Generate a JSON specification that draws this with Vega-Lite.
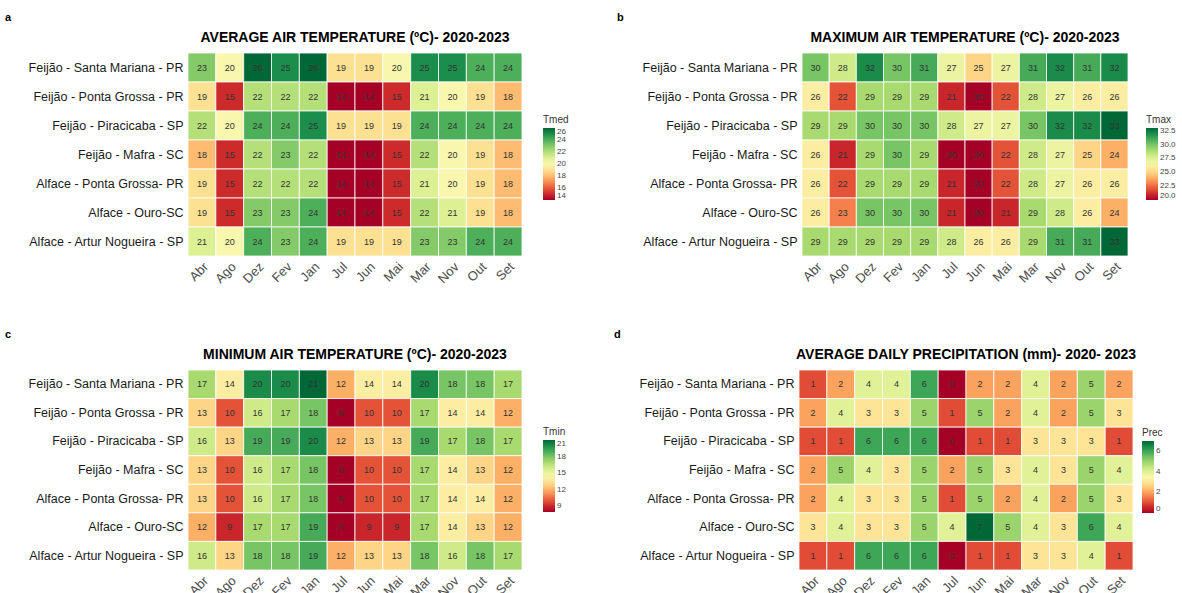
{
  "$schema": "https://vega.github.io/schema/vega-lite/v6.json",
  "background": "white",
  "padding": {"left": 5, "top": 11, "right": 0, "bottom": 0},
  "config": {
    "view": {"stroke": null},
    "font": "Liberation Sans",
    "axis": {"ticks": false, "domain": false, "grid": false, "title": null},
    "axisX": {"labelAngle": -45, "labelFontSize": 13, "labelColor": "#4d4d4d", "labelPadding": 4},
    "axisY": {"labelFontSize": 12.5, "labelColor": "#1a1a1a", "labelPadding": 5, "labelLimit": 300},
    "legend": {"titleFontSize": 10, "titleFontWeight": "normal", "titleColor": "#333", "labelFontSize": 8, "labelColor": "#444", "gradientLength": 72, "gradientThickness": 12, "titlePadding": 3, "labelOverlap": false, "labelOffset": 3}
  },
  "resolve": {"scale": {"color": "independent"}, "legend": {"color": "independent"}},
  "datasets": {
    "clima": [
      {"s":"Feijão - Santa Mariana - PR","m":"Abr","tmed":23,"tmax":30,"tmin":17,"prec":1},
      {"s":"Feijão - Santa Mariana - PR","m":"Ago","tmed":20,"tmax":28,"tmin":14,"prec":2},
      {"s":"Feijão - Santa Mariana - PR","m":"Dez","tmed":26,"tmax":32,"tmin":20,"prec":4},
      {"s":"Feijão - Santa Mariana - PR","m":"Fev","tmed":25,"tmax":30,"tmin":20,"prec":4},
      {"s":"Feijão - Santa Mariana - PR","m":"Jan","tmed":26,"tmax":31,"tmin":21,"prec":6},
      {"s":"Feijão - Santa Mariana - PR","m":"Jul","tmed":19,"tmax":27,"tmin":12,"prec":0},
      {"s":"Feijão - Santa Mariana - PR","m":"Jun","tmed":19,"tmax":25,"tmin":14,"prec":2},
      {"s":"Feijão - Santa Mariana - PR","m":"Mai","tmed":20,"tmax":27,"tmin":14,"prec":2},
      {"s":"Feijão - Santa Mariana - PR","m":"Mar","tmed":25,"tmax":31,"tmin":20,"prec":4},
      {"s":"Feijão - Santa Mariana - PR","m":"Nov","tmed":25,"tmax":32,"tmin":18,"prec":2},
      {"s":"Feijão - Santa Mariana - PR","m":"Out","tmed":24,"tmax":31,"tmin":18,"prec":5},
      {"s":"Feijão - Santa Mariana - PR","m":"Set","tmed":24,"tmax":32,"tmin":17,"prec":2},
      {"s":"Feijão - Ponta Grossa - PR","m":"Abr","tmed":19,"tmax":26,"tmin":13,"prec":2},
      {"s":"Feijão - Ponta Grossa - PR","m":"Ago","tmed":15,"tmax":22,"tmin":10,"prec":4},
      {"s":"Feijão - Ponta Grossa - PR","m":"Dez","tmed":22,"tmax":29,"tmin":16,"prec":3},
      {"s":"Feijão - Ponta Grossa - PR","m":"Fev","tmed":22,"tmax":29,"tmin":17,"prec":3},
      {"s":"Feijão - Ponta Grossa - PR","m":"Jan","tmed":22,"tmax":29,"tmin":18,"prec":5},
      {"s":"Feijão - Ponta Grossa - PR","m":"Jul","tmed":14,"tmax":21,"tmin":8,"prec":1},
      {"s":"Feijão - Ponta Grossa - PR","m":"Jun","tmed":14,"tmax":20,"tmin":10,"prec":5},
      {"s":"Feijão - Ponta Grossa - PR","m":"Mai","tmed":15,"tmax":22,"tmin":10,"prec":2},
      {"s":"Feijão - Ponta Grossa - PR","m":"Mar","tmed":21,"tmax":28,"tmin":17,"prec":4},
      {"s":"Feijão - Ponta Grossa - PR","m":"Nov","tmed":20,"tmax":27,"tmin":14,"prec":2},
      {"s":"Feijão - Ponta Grossa - PR","m":"Out","tmed":19,"tmax":26,"tmin":14,"prec":5},
      {"s":"Feijão - Ponta Grossa - PR","m":"Set","tmed":18,"tmax":26,"tmin":12,"prec":3},
      {"s":"Feijão - Piracicaba - SP","m":"Abr","tmed":22,"tmax":29,"tmin":16,"prec":1},
      {"s":"Feijão - Piracicaba - SP","m":"Ago","tmed":20,"tmax":29,"tmin":13,"prec":1},
      {"s":"Feijão - Piracicaba - SP","m":"Dez","tmed":24,"tmax":30,"tmin":19,"prec":6},
      {"s":"Feijão - Piracicaba - SP","m":"Fev","tmed":24,"tmax":30,"tmin":19,"prec":6},
      {"s":"Feijão - Piracicaba - SP","m":"Jan","tmed":25,"tmax":30,"tmin":20,"prec":6},
      {"s":"Feijão - Piracicaba - SP","m":"Jul","tmed":19,"tmax":28,"tmin":12,"prec":0},
      {"s":"Feijão - Piracicaba - SP","m":"Jun","tmed":19,"tmax":27,"tmin":13,"prec":1},
      {"s":"Feijão - Piracicaba - SP","m":"Mai","tmed":19,"tmax":27,"tmin":13,"prec":1},
      {"s":"Feijão - Piracicaba - SP","m":"Mar","tmed":24,"tmax":30,"tmin":19,"prec":3},
      {"s":"Feijão - Piracicaba - SP","m":"Nov","tmed":24,"tmax":32,"tmin":17,"prec":3},
      {"s":"Feijão - Piracicaba - SP","m":"Out","tmed":24,"tmax":32,"tmin":18,"prec":3},
      {"s":"Feijão - Piracicaba - SP","m":"Set","tmed":24,"tmax":33,"tmin":17,"prec":1},
      {"s":"Feijão - Mafra - SC","m":"Abr","tmed":18,"tmax":26,"tmin":13,"prec":2},
      {"s":"Feijão - Mafra - SC","m":"Ago","tmed":15,"tmax":21,"tmin":10,"prec":5},
      {"s":"Feijão - Mafra - SC","m":"Dez","tmed":22,"tmax":29,"tmin":16,"prec":4},
      {"s":"Feijão - Mafra - SC","m":"Fev","tmed":23,"tmax":30,"tmin":17,"prec":3},
      {"s":"Feijão - Mafra - SC","m":"Jan","tmed":22,"tmax":29,"tmin":18,"prec":5},
      {"s":"Feijão - Mafra - SC","m":"Jul","tmed":14,"tmax":20,"tmin":8,"prec":2},
      {"s":"Feijão - Mafra - SC","m":"Jun","tmed":14,"tmax":20,"tmin":10,"prec":5},
      {"s":"Feijão - Mafra - SC","m":"Mai","tmed":15,"tmax":22,"tmin":10,"prec":3},
      {"s":"Feijão - Mafra - SC","m":"Mar","tmed":22,"tmax":28,"tmin":17,"prec":4},
      {"s":"Feijão - Mafra - SC","m":"Nov","tmed":20,"tmax":27,"tmin":14,"prec":3},
      {"s":"Feijão - Mafra - SC","m":"Out","tmed":19,"tmax":25,"tmin":13,"prec":5},
      {"s":"Feijão - Mafra - SC","m":"Set","tmed":18,"tmax":24,"tmin":12,"prec":4},
      {"s":"Alface - Ponta Grossa- PR","m":"Abr","tmed":19,"tmax":26,"tmin":13,"prec":2},
      {"s":"Alface - Ponta Grossa- PR","m":"Ago","tmed":15,"tmax":22,"tmin":10,"prec":4},
      {"s":"Alface - Ponta Grossa- PR","m":"Dez","tmed":22,"tmax":29,"tmin":16,"prec":3},
      {"s":"Alface - Ponta Grossa- PR","m":"Fev","tmed":22,"tmax":29,"tmin":17,"prec":3},
      {"s":"Alface - Ponta Grossa- PR","m":"Jan","tmed":22,"tmax":29,"tmin":18,"prec":5},
      {"s":"Alface - Ponta Grossa- PR","m":"Jul","tmed":14,"tmax":21,"tmin":8,"prec":1},
      {"s":"Alface - Ponta Grossa- PR","m":"Jun","tmed":14,"tmax":20,"tmin":10,"prec":5},
      {"s":"Alface - Ponta Grossa- PR","m":"Mai","tmed":15,"tmax":22,"tmin":10,"prec":2},
      {"s":"Alface - Ponta Grossa- PR","m":"Mar","tmed":21,"tmax":28,"tmin":17,"prec":4},
      {"s":"Alface - Ponta Grossa- PR","m":"Nov","tmed":20,"tmax":27,"tmin":14,"prec":2},
      {"s":"Alface - Ponta Grossa- PR","m":"Out","tmed":19,"tmax":26,"tmin":14,"prec":5},
      {"s":"Alface - Ponta Grossa- PR","m":"Set","tmed":18,"tmax":26,"tmin":12,"prec":3},
      {"s":"Alface - Ouro-SC","m":"Abr","tmed":19,"tmax":26,"tmin":12,"prec":3},
      {"s":"Alface - Ouro-SC","m":"Ago","tmed":15,"tmax":23,"tmin":9,"prec":4},
      {"s":"Alface - Ouro-SC","m":"Dez","tmed":23,"tmax":30,"tmin":17,"prec":3},
      {"s":"Alface - Ouro-SC","m":"Fev","tmed":23,"tmax":30,"tmin":17,"prec":3},
      {"s":"Alface - Ouro-SC","m":"Jan","tmed":24,"tmax":30,"tmin":19,"prec":5},
      {"s":"Alface - Ouro-SC","m":"Jul","tmed":14,"tmax":21,"tmin":8,"prec":4},
      {"s":"Alface - Ouro-SC","m":"Jun","tmed":14,"tmax":20,"tmin":9,"prec":7},
      {"s":"Alface - Ouro-SC","m":"Mai","tmed":15,"tmax":21,"tmin":9,"prec":5},
      {"s":"Alface - Ouro-SC","m":"Mar","tmed":22,"tmax":29,"tmin":17,"prec":4},
      {"s":"Alface - Ouro-SC","m":"Nov","tmed":21,"tmax":28,"tmin":14,"prec":3},
      {"s":"Alface - Ouro-SC","m":"Out","tmed":19,"tmax":26,"tmin":13,"prec":6},
      {"s":"Alface - Ouro-SC","m":"Set","tmed":18,"tmax":24,"tmin":12,"prec":4},
      {"s":"Alface - Artur Nogueira - SP","m":"Abr","tmed":21,"tmax":29,"tmin":16,"prec":1},
      {"s":"Alface - Artur Nogueira - SP","m":"Ago","tmed":20,"tmax":29,"tmin":13,"prec":1},
      {"s":"Alface - Artur Nogueira - SP","m":"Dez","tmed":24,"tmax":29,"tmin":18,"prec":6},
      {"s":"Alface - Artur Nogueira - SP","m":"Fev","tmed":23,"tmax":29,"tmin":18,"prec":6},
      {"s":"Alface - Artur Nogueira - SP","m":"Jan","tmed":24,"tmax":29,"tmin":19,"prec":6},
      {"s":"Alface - Artur Nogueira - SP","m":"Jul","tmed":19,"tmax":28,"tmin":12,"prec":0},
      {"s":"Alface - Artur Nogueira - SP","m":"Jun","tmed":19,"tmax":26,"tmin":13,"prec":1},
      {"s":"Alface - Artur Nogueira - SP","m":"Mai","tmed":19,"tmax":26,"tmin":13,"prec":1},
      {"s":"Alface - Artur Nogueira - SP","m":"Mar","tmed":23,"tmax":29,"tmin":18,"prec":3},
      {"s":"Alface - Artur Nogueira - SP","m":"Nov","tmed":23,"tmax":31,"tmin":16,"prec":3},
      {"s":"Alface - Artur Nogueira - SP","m":"Out","tmed":24,"tmax":31,"tmin":18,"prec":4},
      {"s":"Alface - Artur Nogueira - SP","m":"Set","tmed":24,"tmax":33,"tmin":17,"prec":1}
    ]
  },
  "vconcat": [
    {
      "resolve": {"scale": {"color": "independent"}, "legend": {"color": "independent"}},
      "hconcat": [
        {
          "title": {"text": "a", "anchor": "start", "frame": "bounds", "fontSize": 11, "fontWeight": "bold", "color": "#000", "dx": -23, "offset": 8},
          "vconcat": [
            {
              "title": {"text": "AVERAGE AIR TEMPERATURE (ºC)- 2020-2023", "fontSize": 14, "fontWeight": "bold", "color": "#000", "anchor": "middle", "frame": "group", "offset": 8},
              "width": 334, "height": 203,
              "data": {"name": "clima"},
              "encoding": {
                "x": {"field": "m", "type": "nominal", "sort": "ascending", "scale": {"paddingInner": 0, "paddingOuter": 0}},
                "y": {"field": "s", "type": "nominal", "sort": ["Feijão - Santa Mariana - PR","Feijão - Ponta Grossa - PR","Feijão - Piracicaba - SP","Feijão - Mafra - SC","Alface - Ponta Grossa- PR","Alface - Ouro-SC","Alface - Artur Nogueira - SP"], "scale": {"paddingInner": 0, "paddingOuter": 0}}
              },
              "layer": [
                {"mark": {"type": "rect", "stroke": "white", "strokeWidth": 0.8},
                 "encoding": {"color": {"field": "tmed", "type": "quantitative", "title": "Tmed", "scale": {"scheme": "redyellowgreen", "domain": [14, 26]}, "legend": {"orient": "none", "legendX": 355, "legendY": 62, "values": [14,16,18,20,22,24,26]}}}},
                {"mark": {"type": "text", "fontSize": 9, "color": "#333"}, "encoding": {"text": {"field": "tmed", "type": "quantitative"}}}
              ]
            }
          ]
        },
        {
          "title": {"text": "b", "anchor": "start", "frame": "bounds", "fontSize": 11, "fontWeight": "bold", "color": "#000", "dx": -25, "offset": 8},
          "vconcat": [
            {
              "title": {"text": "MAXIMUM AIR TEMPERATURE (ºC)- 2020-2023", "fontSize": 14, "fontWeight": "bold", "color": "#000", "anchor": "middle", "frame": "group", "offset": 8},
              "width": 326, "height": 203,
              "data": {"name": "clima"},
              "encoding": {
                "x": {"field": "m", "type": "nominal", "sort": "ascending", "scale": {"paddingInner": 0, "paddingOuter": 0}},
                "y": {"field": "s", "type": "nominal", "sort": ["Feijão - Santa Mariana - PR","Feijão - Ponta Grossa - PR","Feijão - Piracicaba - SP","Feijão - Mafra - SC","Alface - Ponta Grossa- PR","Alface - Ouro-SC","Alface - Artur Nogueira - SP"], "scale": {"paddingInner": 0, "paddingOuter": 0}}
              },
              "layer": [
                {"mark": {"type": "rect", "stroke": "white", "strokeWidth": 0.8},
                 "encoding": {"color": {"field": "tmax", "type": "quantitative", "title": "Tmax", "scale": {"scheme": "redyellowgreen", "domain": [20, 33]}, "legend": {"orient": "none", "legendX": 344, "legendY": 62, "values": [20,22.5,25,27.5,30,32.5], "format": ".1f"}}}},
                {"mark": {"type": "text", "fontSize": 9, "color": "#333"}, "encoding": {"text": {"field": "tmax", "type": "quantitative"}}}
              ]
            }
          ]
        }
      ],
      "spacing": 48
    },
    {
      "resolve": {"scale": {"color": "independent"}, "legend": {"color": "independent"}},
      "hconcat": [
        {
          "title": {"text": "c", "anchor": "start", "frame": "bounds", "fontSize": 11, "fontWeight": "bold", "color": "#000", "dx": -23, "offset": 8},
          "vconcat": [
            {
              "title": {"text": "MINIMUM AIR TEMPERATURE (ºC)- 2020-2023", "fontSize": 14, "fontWeight": "bold", "color": "#000", "anchor": "middle", "frame": "group", "offset": 8},
              "width": 334, "height": 200,
              "data": {"name": "clima"},
              "encoding": {
                "x": {"field": "m", "type": "nominal", "sort": "ascending", "scale": {"paddingInner": 0, "paddingOuter": 0}},
                "y": {"field": "s", "type": "nominal", "sort": ["Feijão - Santa Mariana - PR","Feijão - Ponta Grossa - PR","Feijão - Piracicaba - SP","Feijão - Mafra - SC","Alface - Ponta Grossa- PR","Alface - Ouro-SC","Alface - Artur Nogueira - SP"], "scale": {"paddingInner": 0, "paddingOuter": 0}}
              },
              "layer": [
                {"mark": {"type": "rect", "stroke": "white", "strokeWidth": 0.8},
                 "encoding": {"color": {"field": "tmin", "type": "quantitative", "title": "Tmin", "scale": {"scheme": "redyellowgreen", "domain": [8, 21]}, "legend": {"orient": "none", "legendX": 355, "legendY": 57, "values": [9,12,15,18,21]}}}},
                {"mark": {"type": "text", "fontSize": 9, "color": "#333"}, "encoding": {"text": {"field": "tmin", "type": "quantitative"}}}
              ]
            }
          ]
        },
        {
          "title": {"text": "d", "anchor": "start", "frame": "bounds", "fontSize": 11, "fontWeight": "bold", "color": "#000", "dx": -25, "offset": 8},
          "vconcat": [
            {
              "title": {"text": "AVERAGE DAILY PRECIPITATION (mm)- 2020- 2023", "fontSize": 14, "fontWeight": "bold", "color": "#000", "anchor": "middle", "frame": "group", "offset": 8},
              "width": 334, "height": 200,
              "data": {"name": "clima"},
              "encoding": {
                "x": {"field": "m", "type": "nominal", "sort": "ascending", "scale": {"paddingInner": 0, "paddingOuter": 0}},
                "y": {"field": "s", "type": "nominal", "sort": ["Feijão - Santa Mariana - PR","Feijão - Ponta Grossa - PR","Feijão - Piracicaba - SP","Feijão - Mafra - SC","Alface - Ponta Grossa- PR","Alface - Ouro-SC","Alface - Artur Nogueira - SP"], "scale": {"paddingInner": 0, "paddingOuter": 0}}
              },
              "layer": [
                {"mark": {"type": "rect", "stroke": "white", "strokeWidth": 0.8},
                 "encoding": {"color": {"field": "prec", "type": "quantitative", "title": "Prec", "scale": {"scheme": "redyellowgreen", "domain": [0, 7]}, "legend": {"orient": "none", "legendX": 343, "legendY": 58, "values": [0,2,4,6]}}}},
                {"mark": {"type": "text", "fontSize": 9, "color": "#333"}, "encoding": {"text": {"field": "prec", "type": "quantitative"}}}
              ]
            }
          ]
        }
      ],
      "spacing": 48
    }
  ],
  "spacing": 42
}
